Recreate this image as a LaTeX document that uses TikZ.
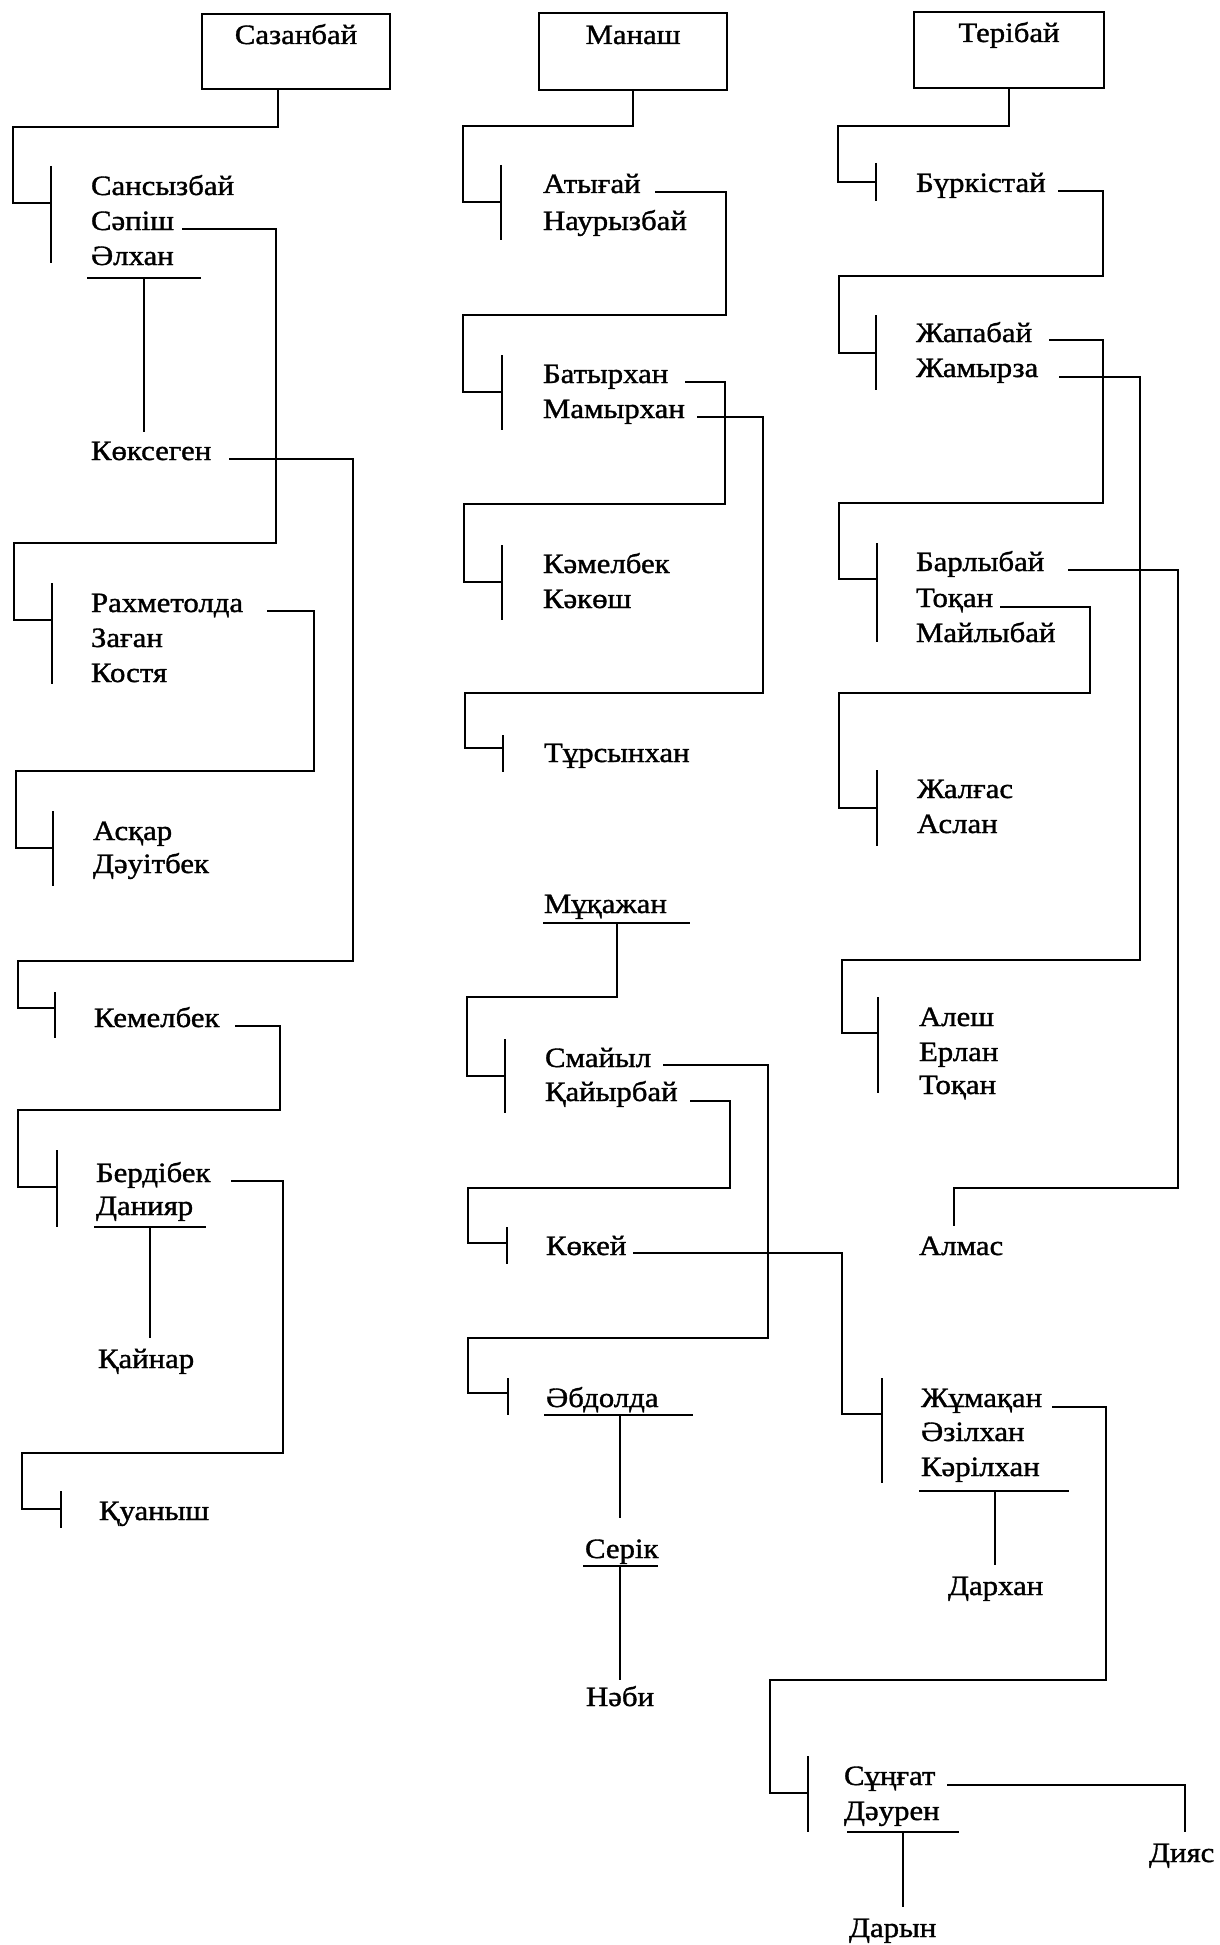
\documentclass[tikz,border=0pt]{standalone}
\usepackage{fontspec}
\setmainfont[FakeStretch=1.1,FakeBold=1.2]{Liberation Serif}
\usetikzlibrary{calc}
\begin{document}
\begin{tikzpicture}[x=1pt,y=-1pt, line width=2pt, line join=miter,
  nm/.style={anchor=base west, inner sep=0pt, font=\fontsize{28pt}{34pt}\selectfont},
  bx/.style={draw, anchor=north west, inner sep=0pt, align=center, font=\fontsize{28pt}{34pt}\selectfont}]
\fill[white] (0,0) rectangle (1219,1945);
\useasboundingbox (0,0) rectangle (1219,1945);

% ---------- boxes ----------
\node[bx, minimum width=188pt, text height=30pt, text depth=45pt] (sazanbai) at (201,13) {Сазанбай};
\node[bx, minimum width=188pt, text height=31pt, text depth=46pt] (manash) at (538,12) {Манаш};
\node[bx, minimum width=190pt, text height=30pt, text depth=46pt] (teribai) at (913,11) {Терібай};

% ---------- column 1 names ----------
\node[nm] (sansyz) at (90,195) {Сансызбай};
\node[nm] (sapish) at (90,230) {Сәпіш};
\node[nm] (alkhan) at (90,265) {Әлхан};
\node[nm] (koksegen) at (90,460) {Көксеген};
\node[nm] (rakhmet) at (90,612) {Рахметолда};
\node[nm] (zagan) at (90,647) {Заған};
\node[nm] (kostya) at (90,682) {Костя};
\node[nm] (askar) at (92,840) {Асқар};
\node[nm] (dauit) at (92,873) {Дәуітбек};
\node[nm] (kemel) at (93,1027) {Кемелбек};
\node[nm] (berdi) at (95,1182) {Бердібек};
\node[nm] (daniyar) at (95,1215) {Данияр};
\node[nm] (qainar) at (97,1368) {Қайнар};
\node[nm] (quanysh) at (98,1520) {Қуаныш};

% ---------- column 2 names ----------
\node[nm] (atygai) at (542,193) {Атығай};
\node[nm] (nauryz) at (542,230) {Наурызбай};
\node[nm] (batyr) at (542,383) {Батырхан};
\node[nm] (mamyr) at (542,418) {Мамырхан};
\node[nm] (kamel) at (542,573) {Кәмелбек};
\node[nm] (kakosh) at (542,608) {Кәкөш};
\node[nm] (tursyn) at (543,762) {Тұрсынхан};
\node[nm] (muqazh) at (543,913) {Мұқажан};
\node[nm] (smaiyl) at (544,1067) {Смайыл};
\node[nm] (qaiyr) at (544,1101) {Қайырбай};
\node[nm] (kokei) at (545,1255) {Көкей};
\node[nm] (abdolda) at (545,1407) {Әбдолда};
\node[nm] (serik) at (584,1558) {Серік};
\node[nm] (nabi) at (585,1706) {Нәби};

% ---------- column 3 names ----------
\node[nm] (burkis) at (915,192) {Бүркістай};
\node[nm] (zhapa) at (915,342) {Жапабай};
\node[nm] (zhamyr) at (915,377) {Жамырза};
\node[nm] (barly) at (915,571) {Барлыбай};
\node[nm] (toqan1) at (915,607) {Тоқан};
\node[nm] (maily) at (915,642) {Майлыбай};
\node[nm] (zhalgas) at (916,798) {Жалғас};
\node[nm] (aslan) at (916,833) {Аслан};
\node[nm] (alesh) at (918,1026) {Алеш};
\node[nm] (erlan) at (918,1061) {Ерлан};
\node[nm] (toqan2) at (918,1094) {Тоқан};
\node[nm] (almas) at (918,1255) {Алмас};
\node[nm] (zhumaq) at (920,1407) {Жұмақан};
\node[nm] (azil) at (920,1441) {Әзілхан};
\node[nm] (karil) at (920,1476) {Кәрілхан};
\node[nm] (darkhan) at (947,1595) {Дархан};
\node[nm] (sungat) at (843,1785) {Сұңғат};
\node[nm] (dauren) at (843,1820) {Дәурен};
\node[nm] (diyas) at (1148,1862) {Дияс};
\node[nm] (daryn) at (848,1937) {Дарын};

% ---------- column 1 connectors ----------
\draw ([xshift=-18pt]sazanbai.south) |- (13,127) |- (51,203);
\draw (51,166) -- (51,263);
\draw ($(alkhan.base west)+(-3,13)$) -- ++(114,0);
\draw (144,278) -- ($(koksegen.base west)+(54,-28)$);
\draw ($(sapish.base west)+(92,-1)$) -| (276,543) -| (14,620) -- (52,620);
\draw (52,583) -- (52,684);
\draw ($(rakhmet.base west)+(177,-1)$) -| (314,771) -| (16,848) -- (53,848);
\draw (53,811) -- (53,886);
\draw ($(koksegen.base west)+(139,-1)$) -| (353,961) -| (18,1008) -- (55,1008);
\draw (55,992) -- (55,1038);
\draw ($(kemel.base west)+(142,-1)$) -| (280,1110) -| (18,1187) -- (57,1187);
\draw (57,1150) -- (57,1227);
\draw ($(daniyar.base west)+(-1,12)$) -- ++(112,0);
\draw (150,1227) -- ($(qainar.base west)+(53,-30)$);
\draw ($(berdi.base west)+(136,-1)$) -| (283,1453) -| (22,1509) -- (61,1509);
\draw (61,1491) -- (61,1528);

% ---------- column 2 connectors ----------
\draw (manash.south) |- (463,126) |- (501,202);
\draw (501,165) -- (501,240);
\draw ($(atygai.base west)+(113,-1)$) -| (726,315) -| (463,392) -- (502,392);
\draw (502,355) -- (502,430);
\draw ($(batyr.base west)+(143,-1)$) -| (725,504) -| (464,582) -- (502,582);
\draw (502,545) -- (502,620);
\draw ($(mamyr.base west)+(155,-1)$) -| (763,693) -| (465,748) -- (503,748);
\draw (503,735) -- (503,772);
\draw ($(muqazh.base west)+(0,10)$) -- ++(147,0);
\draw (617,923) |- (467,997) |- (505,1076);
\draw (505,1039) -- (505,1113);
\draw ($(smaiyl.base west)+(119,-2)$) -| (768,1338) -| (468,1393) -- (508,1393);
\draw ($(qaiyr.base west)+(146,0)$) -| (730,1188) -| (468,1243) -- (507,1243);
\draw (507,1227) -- (507,1264);
\draw ($(kokei.base west)+(88,-2)$) -| (842,1414) -- (882,1414);
\draw (508,1378) -- (508,1415);
\draw ($(abdolda.base west)+(-1,8)$) -- ++(149,0);
\draw (620,1415) -- ($(serik.base west)+(36,-40)$);
\draw ($(serik.base west)+(-1,8)$) -- ++(75,0);
\draw (620,1566) -- ($(nabi.base west)+(35,-26)$);

% ---------- column 3 connectors ----------
\draw (teribai.south) |- (838,126) |- (876,182);
\draw (876,163) -- (876,201);
\draw ($(burkis.base west)+(143,-1)$) -| (1103,276) -| (839,353) -- (876,353);
\draw (876,315) -- (876,390);
\draw ($(zhapa.base west)+(134,-2)$) -| (1103,503) -| (839,579) -- (877,579);
\draw ($(zhamyr.base west)+(144,0)$) -| (1140,960) -| (842,1033) -- (878,1033);
\draw (877,543) -- (877,642);
\draw ($(barly.base west)+(153,-1)$) -| (1178,1188) -| ($(almas.base west)+(36,-29)$);
\draw ($(toqan1.base west)+(85,0)$) -| (1090,693) -| (839,808) -- (877,808);
\draw (877,770) -- (877,846);
\draw (878,997) -- (878,1093);
\draw (882,1378) -- (882,1483);
\draw ($(karil.base west)+(-1,15)$) -- ++(150,0);
\draw (995,1491) -- ($(darkhan.base west)+(48,-30)$);
\draw ($(zhumaq.base west)+(132,0)$) -| (1106,1680) -| (770,1793) -- (808,1793);
\draw (808,1756) -- (808,1832);
\draw ($(sungat.base west)+(104,0)$) -| ($(diyas.base west)+(37,-30)$);
\draw ($(dauren.base west)+(4,12)$) -- ++(112,0);
\draw (903,1832) -- ($(daryn.base west)+(55,-30)$);
\end{tikzpicture}
\end{document}
